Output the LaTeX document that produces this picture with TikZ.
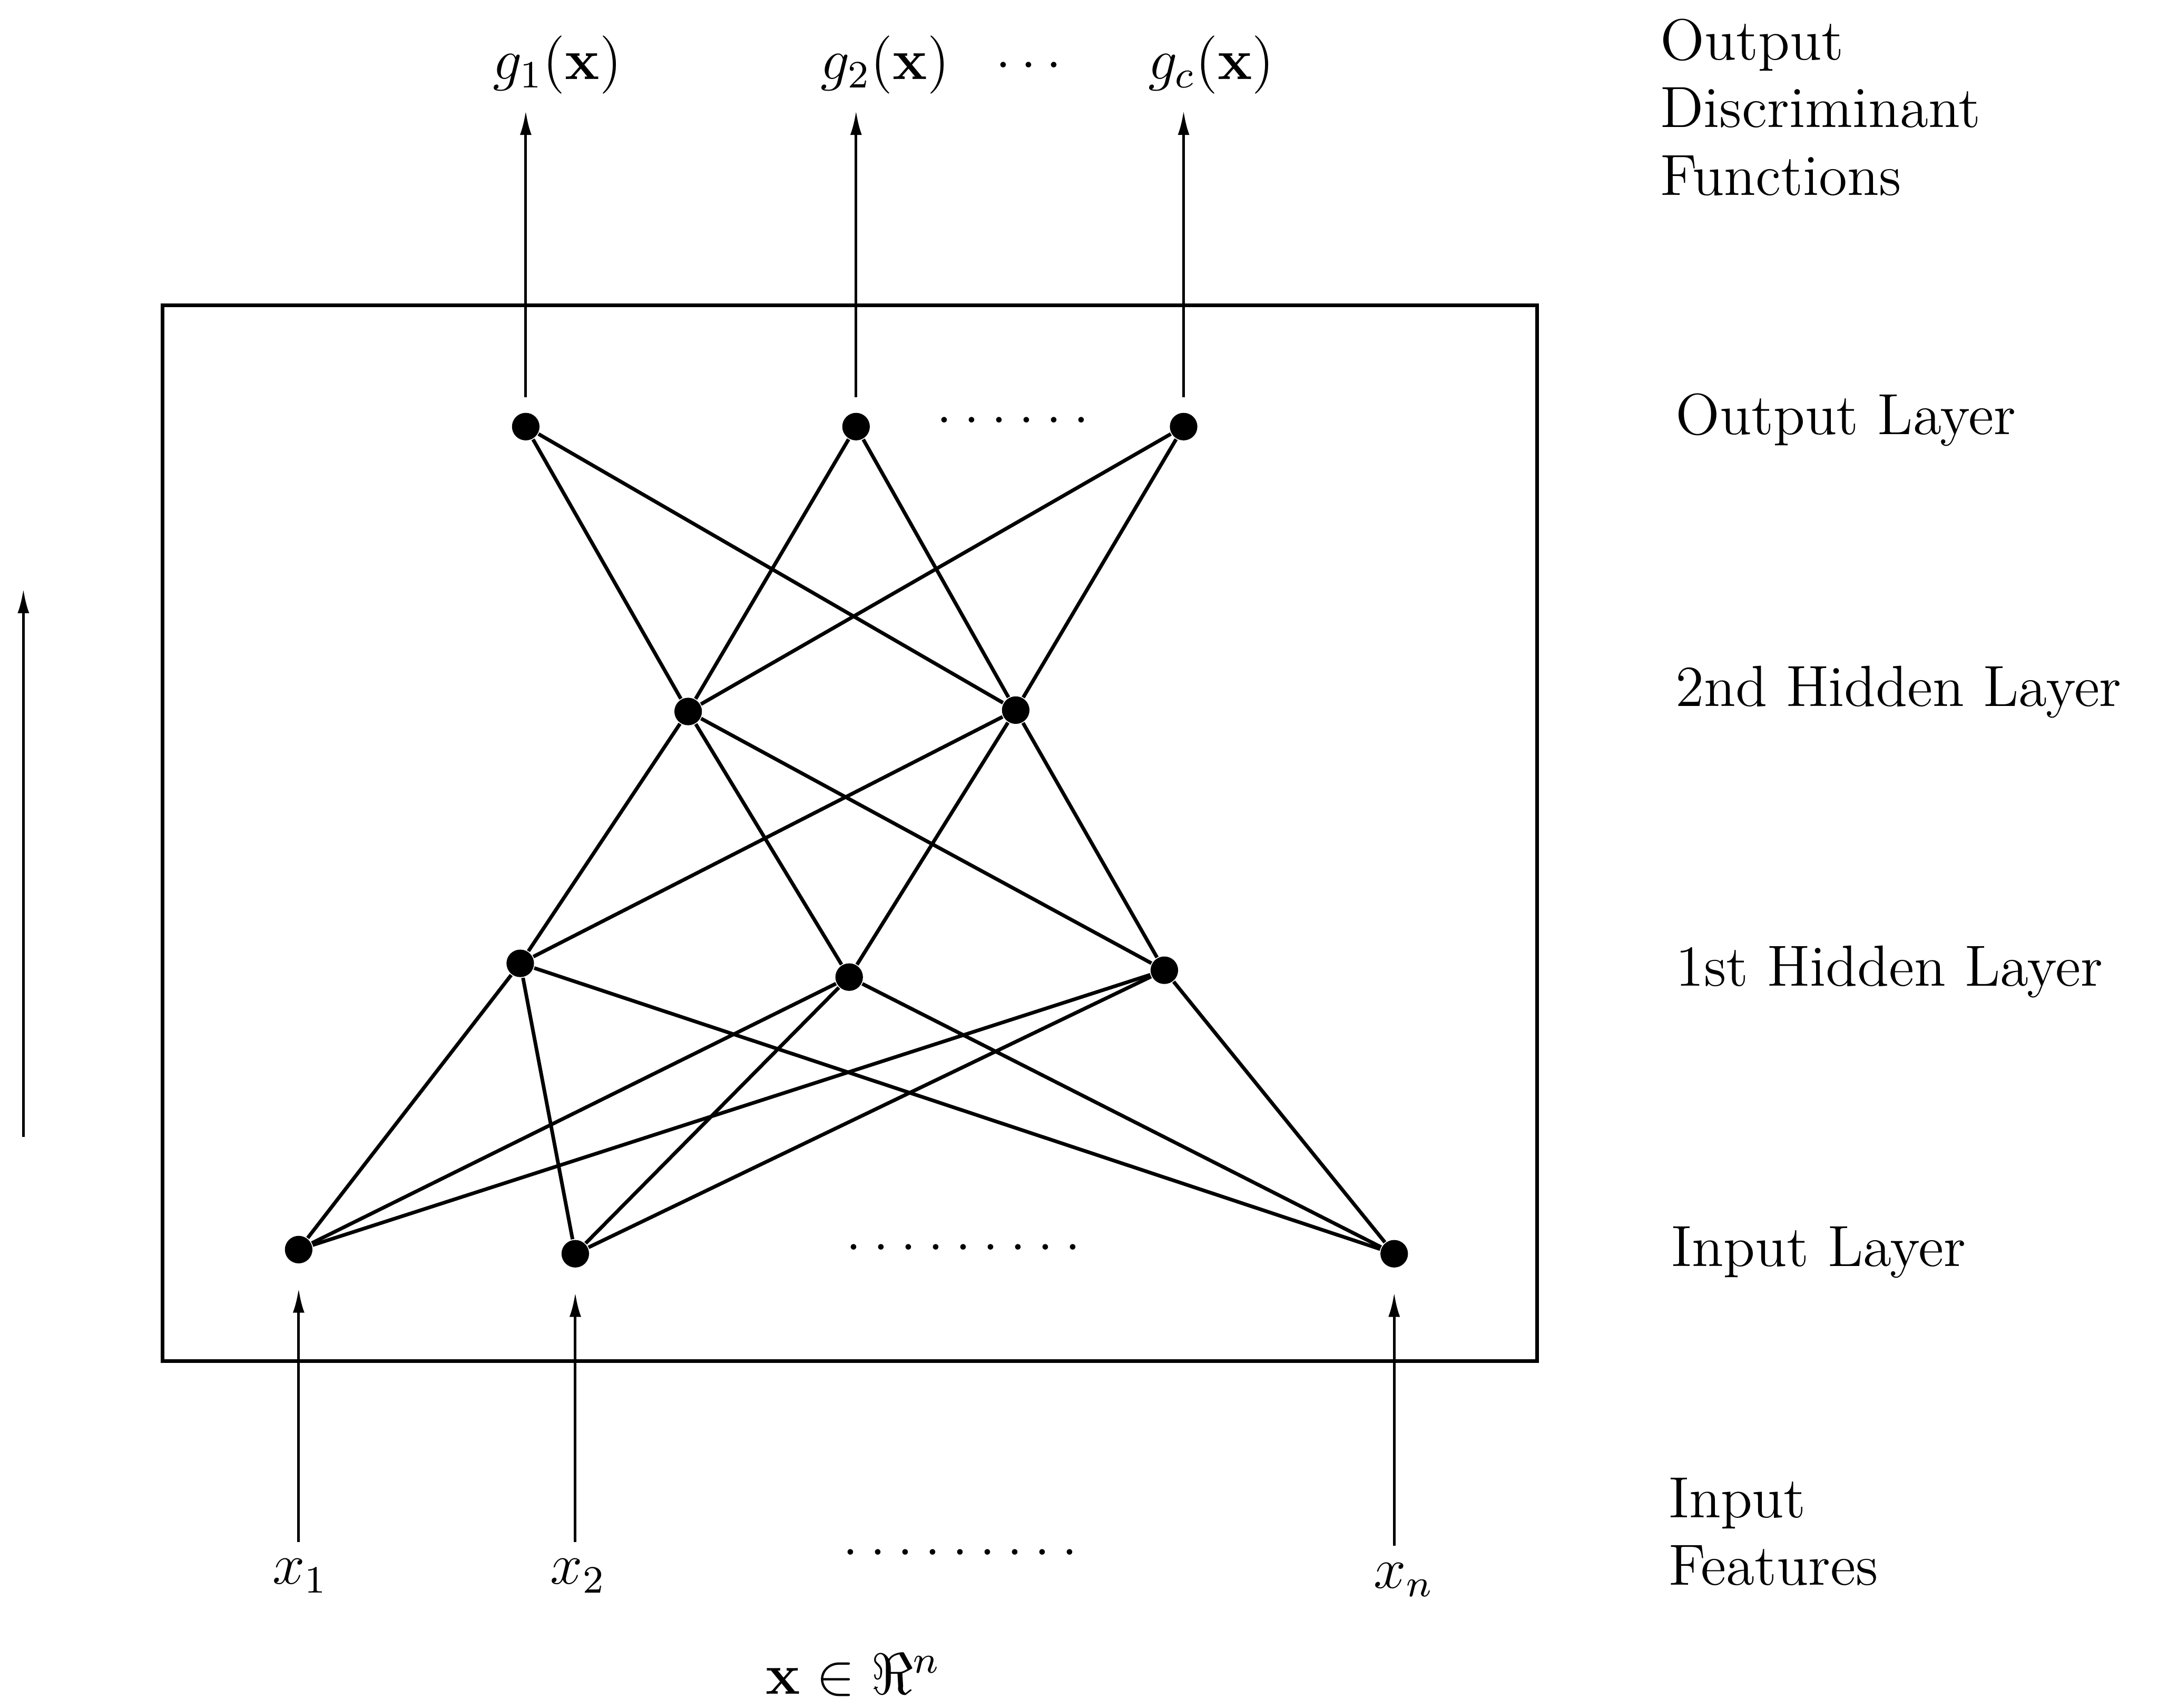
\documentclass[tikz,border=0pt]{standalone}
\usepackage{amsmath,amssymb}
\usepackage{xcolor}
\usepackage{tikz}
\usetikzlibrary{arrows.meta}

% a row of spaced periods
\newcommand{\dotrun}[1]{\foreach \k in {1,...,#1}{.\kern2.4pt}}

\begin{document}
\begin{tikzpicture}[every node/.style={font=\fontsize{12}{14}\selectfont},
  unit/.style={circle,fill,inner sep=0pt,minimum size=0.2cm},
  wire/.style={line width=0.75pt},
  feed/.style={-{Latex[length=5pt,width=2.4pt]},line width=0.55pt}]
  \useasboundingbox (0,0) rectangle (15.68,12.41);

  % network frame
  \draw[wire] (1.18,2.52) rectangle (11.17,10.19);

  % units
  \node[unit] (out1) at (3.82,9.31) {};
  \node[unit] (out2) at (6.22,9.31) {};
  \node[unit] (out3) at (8.60,9.31) {};
  \node[unit] (hidB1) at (5.00,7.24) {};
  \node[unit] (hidB2) at (7.38,7.25) {};
  \node[unit] (hidA1) at (3.78,5.41) {};
  \node[unit] (hidA2) at (6.17,5.31) {};
  \node[unit] (hidA3) at (8.46,5.36) {};
  \node[unit] (in1) at (2.17,3.33) {};
  \node[unit] (in2) at (4.18,3.30) {};
  \node[unit] (inN) at (10.13,3.30) {};

  \node (odots) at (7.40,9.36) {\dotrun{6}};
  \node (idots) at (7.04,3.35) {\dotrun{9}};

  % connections
  \foreach \a in {out1,out2,out3}
    \foreach \b in {hidB1,hidB2}
      \draw[wire] (\a) -- (\b);
  \foreach \a in {hidB1,hidB2}
    \foreach \b in {hidA1,hidA2,hidA3}
      \draw[wire] (\a) -- (\b);
  \foreach \a in {hidA1,hidA2,hidA3}
    \foreach \b in {in1,in2,inN}
      \draw[wire] (\a) -- (\b);

  % outputs
  \node (g1) at (4.05,11.94) {$g_1(\mathbf{x})$};
  \node (g2) at (6.43,11.94) {$g_2(\mathbf{x})$};
  \node (gdots) at (7.51,11.94) {$\dots$};
  \node (gc) at (8.80,11.94) {$g_c(\mathbf{x})$};
  \draw[feed,shorten <=3pt] (out1) -- (out1 |- g1.south);
  \draw[feed,shorten <=3pt] (out2) -- (out2 |- g2.south);
  \draw[feed,shorten <=3pt] (out3) -- (out3 |- gc.south);

  % inputs
  \node (x1) at (2.18,0.96) {$x_1$};
  \node (x2) at (4.20,0.96) {$x_2$};
  \node (xdots) at (7.02,1.13) {\dotrun{9}};
  \node (xn) at (10.20,0.93) {$x_n$};
  \draw[feed,shorten >=5pt] (in1 |- x1.north) -- (in1);
  \draw[feed,shorten >=5pt] (in2 |- x2.north) -- (in2);
  \draw[feed,shorten >=5pt] (inN |- xn.north) -- (inN);
  \node (space) at (6.20,0.24) {$\mathbf{x}\in\Re^n$};

  % direction of flow
  \coordinate (flowlo) at (0.17,4.15);
  \coordinate (flowhi) at (0.17,8.13);
  \draw[feed] (flowlo) -- (flowhi);

  % layer names
  \node[anchor=west,align=left] (lblgx) at (11.94,11.63) {Output\\Discriminant\\Functions};
  \node[anchor=west] (lblout) at (12.05,9.36) {Output Layer};
  \node[anchor=west] (lblh2) at (12.05,7.38) {2nd Hidden Layer};
  \node[anchor=west] (lblh1) at (12.05,5.35) {1st Hidden Layer};
  \node[anchor=west] (lblin) at (12.02,3.31) {Input Layer};
  \node[anchor=west,align=left] (lblx) at (12.00,1.28) {Input\\Features};
\end{tikzpicture}
\end{document}
